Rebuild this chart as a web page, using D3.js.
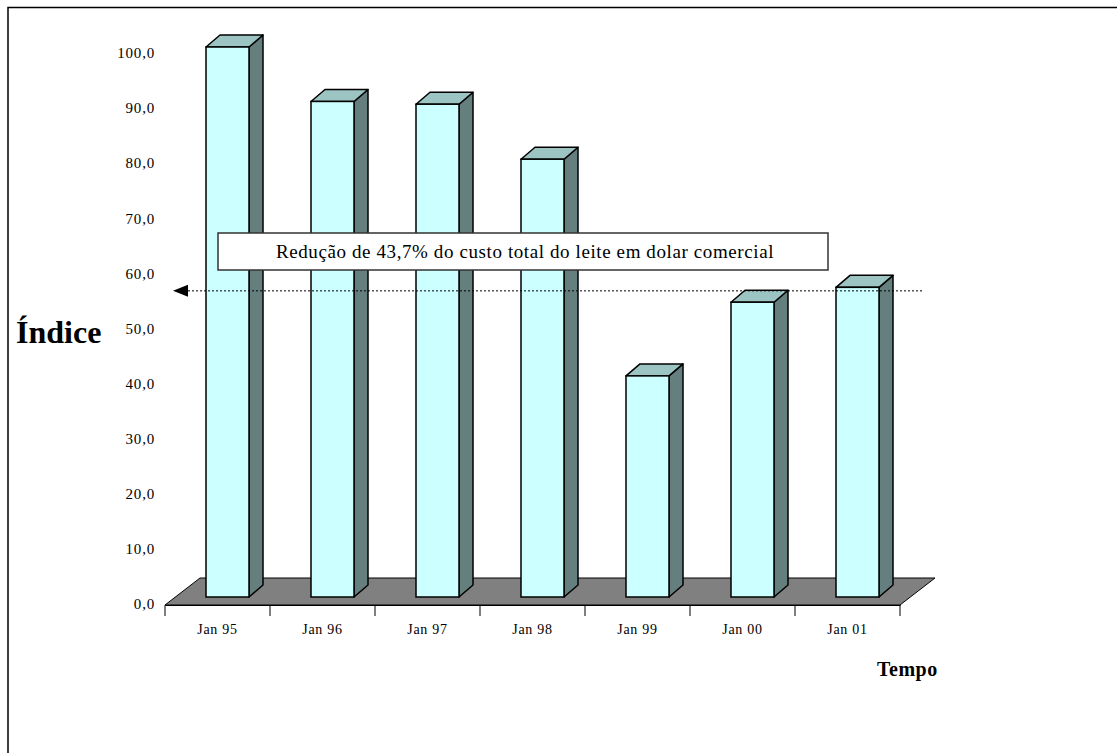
<!DOCTYPE html>
<html>
<head>
<meta charset="utf-8">
<script src="https://cdn.jsdelivr.net/npm/d3@7"></script>
<style>
  html, body { margin: 0; padding: 0; background: #fff; }
  svg { display: block; }
  text { font-family: "Liberation Serif", "Times New Roman", serif; fill: #000; }
</style>
</head>
<body>
<svg id="chart" width="1117" height="753"></svg>
<script>
// ---- data ----
const categories = ["Jan 95", "Jan 96", "Jan 97", "Jan 98", "Jan 99", "Jan 00", "Jan 01"];
const values = [100.0, 90.1, 89.6, 79.6, 40.2, 53.6, 56.3];
const yTicks = [0, 10, 20, 30, 40, 50, 60, 70, 80, 90, 100];
const annotationText = "Redução de 43,7% do custo total do leite em dolar comercial";
const annotationValue = 56.3;
const yTitle = "Índice";
const xTitle = "Tempo";

// ---- layout ----
const svg = d3.select("#chart");
const floorY = 605, floorDX = 35, floorDY = -27;
const barW = 43, barDX = 14, barDY = -12, barShift = 10, barBase = 597;

const x = d3.scaleBand().domain(categories).range([165, 900]);
const yBar = d3.scaleLinear().domain([0, 100]).range([barBase, 47]);
const yLab = d3.scaleLinear().domain([0, 100]).range([604, 53]);
const fmt = d => d.toFixed(1).replace(".", ",");

// outer frame (extends beyond the picture on right/bottom)
svg.append("rect").attr("x", 8).attr("y", 7.5).attr("width", 1300).attr("height", 900)
  .attr("fill", "none").attr("stroke", "#000").attr("stroke-width", 1.5);

// floor
const [x0, x1] = x.range();
svg.append("polygon")
  .attr("points", [[x0, floorY], [x1, floorY], [x1 + floorDX, floorY + floorDY], [x0 + floorDX, floorY + floorDY]].map(p => p.join(",")).join(" "))
  .attr("fill", "#808080").attr("stroke", "#000").attr("stroke-width", 1);

// bars
const bars = svg.append("g").selectAll("g").data(categories.map((c, i) => ({ c, v: values[i] }))).join("g");
bars.each(function (d) {
  const g = d3.select(this);
  const fx = x(d.c) + x.bandwidth() / 2 - barW / 2 + barShift;
  const top = yBar(d.v);
  g.append("polygon")
    .attr("points", [[fx + barW, top], [fx + barW + barDX, top + barDY], [fx + barW + barDX, barBase + barDY], [fx + barW, barBase]].map(p => p.join(",")).join(" "))
    .attr("fill", "#647f7e").attr("stroke", "#000").attr("stroke-width", 1.5).attr("stroke-linejoin", "round");
  g.append("polygon")
    .attr("points", [[fx, top], [fx + barW, top], [fx + barW + barDX, top + barDY], [fx + barDX, top + barDY]].map(p => p.join(",")).join(" "))
    .attr("fill", "#9bc4c2").attr("stroke", "#000").attr("stroke-width", 1.5).attr("stroke-linejoin", "round");
  g.append("rect").attr("x", fx).attr("y", top).attr("width", barW).attr("height", barBase - top)
    .attr("fill", "#ccffff").attr("stroke", "#000").attr("stroke-width", 1.5);
});

// x axis
const xAxis = d3.axisBottom(x).tickSize(0).tickSizeOuter(0).tickPadding(19);
const gx = svg.append("g").attr("transform", `translate(0,${floorY})`).call(xAxis);
gx.select(".domain").attr("stroke", "#000").attr("stroke-width", 1.2);
gx.selectAll("text").style("font-family", "Liberation Serif, serif").style("font-size", "14px")
  .style("letter-spacing", "0.7px").attr("fill", "#000");
const edges = categories.map(c => x(c)).concat([x1]);
gx.selectAll("line.edge").data(edges).join("line").attr("class", "edge")
  .attr("x1", d => d).attr("x2", d => d).attr("y1", 0).attr("y2", 11)
  .attr("stroke", "#000").attr("stroke-width", 1);

// y labels
svg.append("g").selectAll("text").data(yTicks).join("text")
  .attr("x", 155).attr("y", d => yLab(d)).attr("dy", "0.35em")
  .attr("text-anchor", "end").style("font-size", "15px").style("letter-spacing", "0.8px")
  .text(fmt);

// titles
svg.append("text").attr("x", 16).attr("y", 343).style("font-size", "32px").style("font-weight", "bold").text(yTitle);
svg.append("text").attr("x", 877).attr("y", 676).style("font-size", "20px").style("font-weight", "bold")
  .style("letter-spacing", "0.5px").text(xTitle);

// dotted reference line + arrow
const ly = yBar(annotationValue) + 3.5;
svg.append("line").attr("x1", 188).attr("x2", 922).attr("y1", ly).attr("y2", ly)
  .attr("stroke", "#000").attr("stroke-width", 1).attr("stroke-dasharray", "2,2");
svg.append("polygon").attr("points", `173,${ly} 188,${ly - 6} 188,${ly + 6}`).attr("fill", "#000");

// annotation box
svg.append("rect").attr("x", 218).attr("y", 233).attr("width", 610).attr("height", 37)
  .attr("fill", "#fff").attr("stroke", "#333").attr("stroke-width", 1.5);
svg.append("text").attr("x", 525).attr("y", 251.5).attr("dy", "0.35em").attr("text-anchor", "middle")
  .style("font-size", "19px").style("letter-spacing", "0.6px").text(annotationText);
</script>
</body>
</html>
